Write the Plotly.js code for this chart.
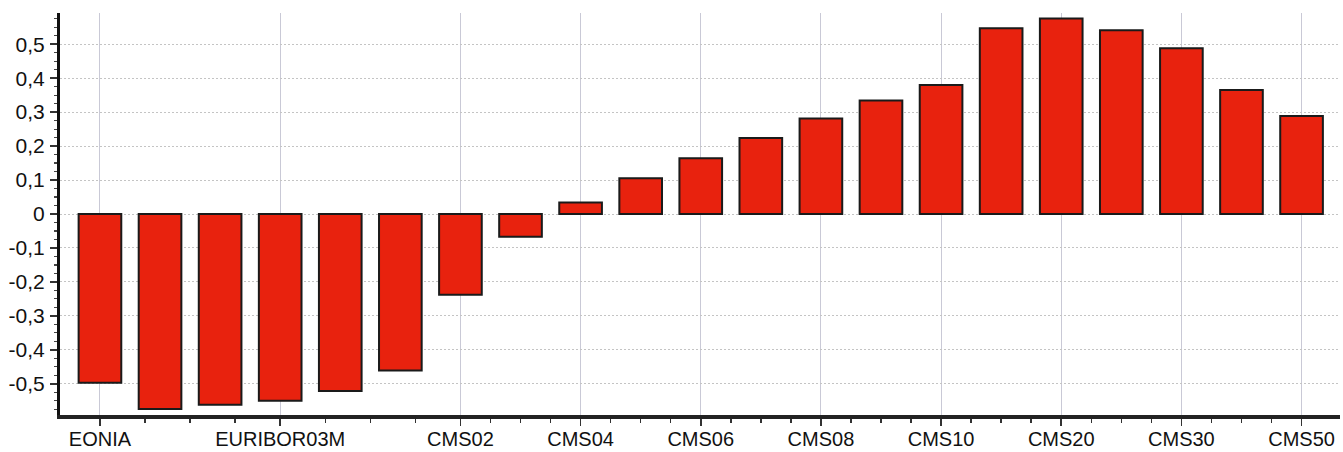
<!DOCTYPE html>
<html>
<head>
<meta charset="utf-8">
<script src="https://cdn.plot.ly/plotly-3.0.1.min.js"></script>
<style>html,body{margin:0;padding:0;background:#fff;}#chart{width:1343px;height:452px;}</style>
</head>
<body>
<div id="chart"></div>
<script>
var categories = ["EONIA","EURIBOR01W","EURIBOR01M","EURIBOR03M","EURIBOR06M","EURIBOR12M",
  "CMS02","CMS03","CMS04","CMS05","CMS06","CMS07","CMS08","CMS09","CMS10",
  "CMS15","CMS20","CMS25","CMS30","CMS40","CMS50"];
var values = [-0.497,-0.574,-0.562,-0.550,-0.521,-0.461,
  -0.238,-0.067,0.034,0.105,0.164,0.224,0.281,0.334,0.380,
  0.547,0.576,0.541,0.488,0.365,0.289];
var labeledCategories = ["EONIA","EURIBOR03M","CMS02","CMS04","CMS06","CMS08","CMS10","CMS20","CMS30","CMS50"];
var yTickVals = [-0.5,-0.4,-0.3,-0.2,-0.1,0,0.1,0.2,0.3,0.4,0.5];
var yTickText = ["-0,5","-0,4","-0,3","-0,2","-0,1","0","0,1","0,2","0,3","0,4","0,5"];

var xIdx = categories.map(function(c,i){return i;});
var majorIdx = labeledCategories.map(function(c){return categories.indexOf(c);});
var minorIdx = [];
for (var k=0;k<majorIdx.length-1;k++){
  var a=majorIdx[k], b=majorIdx[k+1];
  for (var s=1;s<4;s++){ minorIdx.push(a+(b-a)*s/4); }
}

var trace = {
  type:'bar', x:xIdx, y:values, width:0.71,
  text: categories, hoverinfo:'text+y', textposition:'none',
  marker:{color:'#e8220e', line:{color:'#1a1a1a', width:2}}
};

var layout = {
  width:1343, height:452,
  margin:{l:60, r:3, t:13, b:37},
  paper_bgcolor:'#fff', plot_bgcolor:'#fff',
  showlegend:false,
  font:{family:'Liberation Sans, Arial, sans-serif', size:20, color:'#111'},
  xaxis:{
    range:[-0.665,20.64],
    tickmode:'array', tickvals:majorIdx, ticktext:labeledCategories,
    ticks:'outside', ticklen:7, tickwidth:1.5, tickcolor:'#333',
    showgrid:true, gridcolor:'#c9c9d6', gridwidth:1,
    showline:true, linecolor:'#222', linewidth:4,
    zeroline:false,
    tickfont:{size:20, color:'#111'},
    ticklabelstandoff:-4,
    minor:{tickmode:'array', tickvals:minorIdx, ticks:'outside', ticklen:4, tickwidth:1.5, tickcolor:'#333', showgrid:false}
  },
  yaxis:{
    range:[-0.592,0.592],
    tickmode:'array', tickvals:yTickVals, ticktext:yTickText,
    ticks:'outside', ticklen:7, tickwidth:1.5, tickcolor:'#333',
    showgrid:true, gridcolor:'#c4c4c4', gridwidth:1, griddash:'2px,2px',
    showline:true, linecolor:'#111', linewidth:3,
    zeroline:false,
    tickfont:{size:21, color:'#111'},
    ticklabelstandoff:1,
    minor:{dtick:0.025, tick0:0, ticks:'outside', ticklen:3, tickwidth:1.2, tickcolor:'#444', showgrid:false}
  }
};

Plotly.newPlot('chart',[trace],layout,{displayModeBar:false, staticPlot:true});
</script>
</body>
</html>
